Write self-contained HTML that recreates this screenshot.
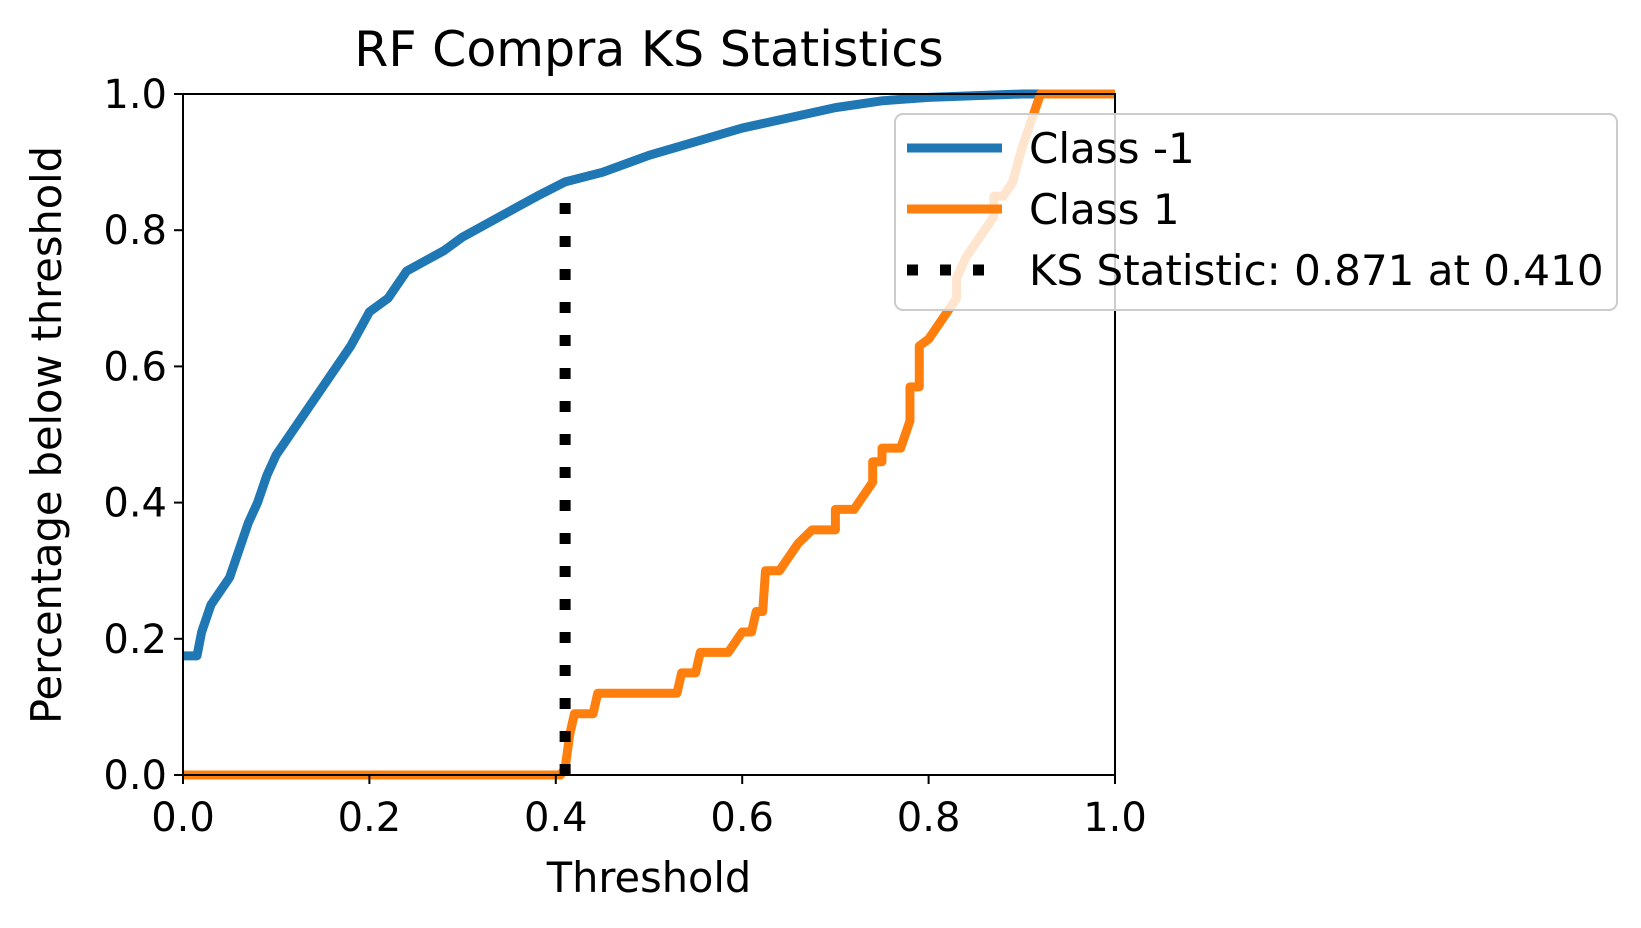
<!DOCTYPE html>
<html><head><meta charset="utf-8"><style>
body{margin:0;background:#fff}
svg{display:block;font-family:"DejaVu Sans","Liberation Sans",sans-serif}
</style></head><body>
<svg id="c" width="1641" height="928"></svg>
<script>
const blueX=[0,0.015,0.02,0.03,0.04,0.05,0.06,0.07,0.08,0.09,0.1,0.12,0.14,0.16,0.18,0.2,0.22,0.24,0.26,0.28,0.3,0.32,0.34,0.36,0.38,0.41,0.45,0.5,0.55,0.6,0.65,0.7,0.75,0.8,0.9,1];
const blueY=[0.175,0.175,0.21,0.25,0.27,0.29,0.33,0.37,0.40,0.44,0.47,0.51,0.55,0.59,0.63,0.68,0.70,0.74,0.755,0.77,0.79,0.805,0.82,0.835,0.85,0.871,0.885,0.91,0.93,0.95,0.965,0.98,0.99,0.995,1,1];
const orangeX=[0,0.405,0.41,0.415,0.42,0.44,0.445,0.53,0.535,0.55,0.555,0.585,0.6,0.61,0.615,0.622,0.625,0.64,0.655,0.66,0.675,0.7,0.7,0.72,0.725,0.74,0.74,0.75,0.75,0.77,0.78,0.78,0.79,0.79,0.80,0.82,0.83,0.83,0.84,0.85,0.86,0.87,0.87,0.88,0.89,0.9,0.91,0.92,1];
const orangeY=[0,0,0.01,0.06,0.09,0.09,0.12,0.12,0.15,0.15,0.18,0.18,0.21,0.21,0.24,0.24,0.30,0.30,0.33,0.34,0.36,0.36,0.39,0.39,0.40,0.43,0.46,0.46,0.48,0.48,0.52,0.57,0.57,0.63,0.64,0.68,0.70,0.73,0.76,0.78,0.80,0.82,0.85,0.85,0.87,0.92,0.96,1.0,1.0];
const ksX=0.410, ksY=0.871;
const ticks=[0,0.2,0.4,0.6,0.8,1.0];
const tickLabels=["0.0","0.2","0.4","0.6","0.8","1.0"];
const L=183,R=1115,T=94,B=775;
const sx=v=>L+v*(R-L), sy=v=>B-v*(B-T);
const svg=document.getElementById('c');const NS='http://www.w3.org/2000/svg';
function mk(tag,attrs,name,parent){const e=document.createElementNS(NS,tag);for(const k in attrs)e.setAttribute(k,attrs[k]);


(parent||svg).appendChild(e);return e;}
function pts(xs,ys){return xs.map((x,i)=>sx(x)+','+sy(ys[i])).join(' ');}
mk('polyline',{points:pts(blueX,blueY),fill:'none',stroke:'#1f77b4','stroke-width':9,'stroke-linejoin':'round'},'class-neg1-line');
mk('polyline',{points:pts(orangeX,orangeY),fill:'none',stroke:'#ff7f0e','stroke-width':9,'stroke-linejoin':'round'},'class-1-line');
mk('line',{x1:sx(ksX),x2:sx(ksX),y1:sy(0),y2:sy(ksY),stroke:'#000','stroke-width':11,'stroke-dasharray':'11 22'},'ks-statistic-line');
mk('rect',{x:L,y:T,width:R-L,height:B-T,fill:'none',stroke:'#000','stroke-width':2},'plot-frame');
ticks.forEach((t,i)=>{
 mk('line',{x1:sx(t),x2:sx(t),y1:B,y2:B+9,stroke:'#000','stroke-width':2},'x-tick');
 const a=mk('text',{x:sx(t),y:B+56,'text-anchor':'middle','font-size':40},'x-tick-label');a.textContent=tickLabels[i];
 mk('line',{x1:L-9,x2:L,y1:sy(t),y2:sy(t),stroke:'#000','stroke-width':2},'y-tick');
 const b=mk('text',{x:L-16,y:sy(t)+14,'text-anchor':'end','font-size':40},'y-tick-label');b.textContent=tickLabels[i];
});
let t=mk('text',{x:(L+R)/2,y:66,'text-anchor':'middle','font-size':49},'chart-title');t.textContent='RF Compra KS Statistics';
t=mk('text',{x:(L+R)/2,y:892,'text-anchor':'middle','font-size':41.5},'x-axis-title');t.textContent='Threshold';
t=mk('text',{x:0,y:0,'text-anchor':'middle','font-size':41.5,transform:'translate(61,435) rotate(-90)'},'y-axis-title');t.textContent='Percentage below threshold';
const lg=mk('g',{},'legend');
mk('rect',{x:895,y:114,width:722,height:196,rx:8,fill:'rgba(255,255,255,0.8)',stroke:'#ccc','stroke-width':2},'legend-box',lg);
const items=[['Class -1','#1f77b4',''],['Class 1','#ff7f0e',''],['KS Statistic: 0.871 at 0.410','#000','11 22']];
items.forEach((it,i)=>{const y=148+i*61;
 const ln=mk('line',{x1:907,x2:1002,y1:y,y2:y,stroke:it[1],'stroke-width':it[2]?11:9},'legend-entry-line',lg);
 if(it[2])ln.setAttribute('stroke-dasharray',it[2]);
 const tx=mk('text',{x:1029,y:y+15,'font-size':42},'legend-entry-label',lg);tx.textContent=it[0];});
</script>
</body></html>
